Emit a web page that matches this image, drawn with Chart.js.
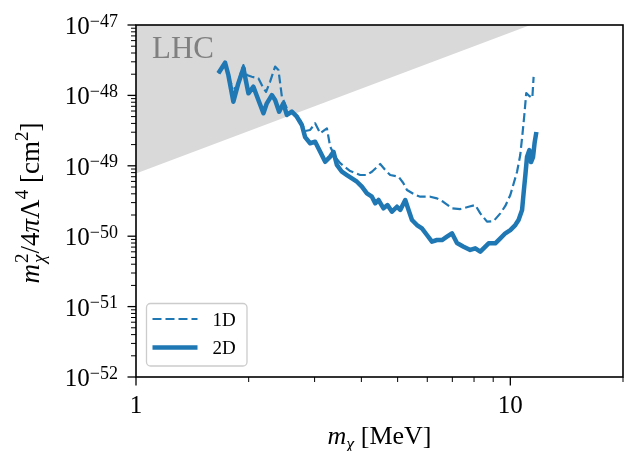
<!DOCTYPE html>
<html>
<head>
<meta charset="utf-8">
<script src="https://cdn.jsdelivr.net/npm/chart.js@4"></script>
<style>
  html, body { margin: 0; padding: 0; background: #fff; }
</style>
</head>
<body>
<canvas id="grafica" width="624" height="451"></canvas>
<script>
// ===============================
// DATOS
// ===============================
const masa2D = [1.660, 1.730, 1.765, 1.820, 1.877, 1.936, 1.997, 2.059, 2.123, 2.190,
  2.236, 2.306, 2.353, 2.412, 2.476, 2.529, 2.608, 2.690, 2.774, 2.830,
  2.919, 3.010, 3.105, 3.202, 3.302, 3.370, 3.441, 3.548, 3.659, 3.774,
  3.892, 4.013, 4.139, 4.268, 4.355, 4.444, 4.584, 4.698, 4.828, 4.980,
  5.081, 5.240, 5.348, 5.461, 5.630, 5.806, 5.988, 6.175, 6.368, 6.568,
  6.772, 6.984, 7.203, 7.501, 7.816, 8.061, 8.313, 8.484, 8.750, 9.118,
  9.404, 9.697, 10.0, 10.31, 10.52, 10.75, 10.85, 10.97, 11.08, 11.24,
  11.36, 11.50, 11.61, 11.74];
const sigma2D = [2.06e-48, 2.91e-48, 1.95e-48, 8.14e-49, 1.49e-48, 2.43e-48, 1.07e-48, 1.33e-48, 8.61e-49, 5.57e-49,
  7.72e-49, 1.01e-48, 8.61e-49, 5.87e-49, 7.72e-49, 5.27e-49, 5.87e-49, 4.98e-49, 3.80e-49, 2.56e-49,
  2.09e-49, 2.20e-49, 1.58e-49, 1.14e-49, 1.35e-49, 1.58e-49, 1.03e-49, 8.24e-50, 7.40e-50, 6.64e-50,
  5.94e-50, 5.05e-50, 4.06e-50, 3.64e-50, 2.93e-50, 3.27e-50, 2.49e-50, 2.77e-50, 2.23e-50, 2.62e-50,
  2.36e-50, 3.27e-50, 2.36e-50, 1.70e-50, 1.44e-50, 1.29e-50, 1.04e-50, 8.36e-51, 8.83e-51, 8.83e-51,
  9.84e-51, 1.10e-50, 8.00e-51, 7.10e-51, 6.37e-51, 6.73e-51, 6.03e-51, 6.73e-51, 7.93e-51, 7.93e-51,
  9.33e-51, 1.10e-50, 1.22e-50, 1.44e-50, 1.70e-50, 2.36e-50, 4.06e-50, 7.40e-50, 1.33e-49, 1.67e-49,
  1.13e-49, 1.33e-49, 2.11e-49, 3.02e-49];

const masa1D = [1.660, 1.730, 1.784, 1.851, 1.909, 1.936, 1.977, 2.039, 2.123, 2.190,
  2.226, 2.282, 2.353, 2.402, 2.453, 2.529, 2.634, 2.745, 2.830, 2.919,
  3.010, 3.105, 3.236, 3.302, 3.405, 3.512, 3.735, 3.971, 4.139, 4.268,
  4.491, 4.633, 4.777, 5.029, 5.176, 5.295, 5.572, 5.746, 6.111, 6.368,
  6.633, 6.984, 7.351, 7.736, 8.061, 8.313, 8.664, 9.023, 9.404, 9.697,
  10.0, 10.42, 10.63, 10.77, 10.90, 11.03, 11.24, 11.45, 11.54];
const sigma1D = [2.06e-48, 2.91e-48, 1.55e-48, 1.19e-48, 2.15e-48, 2.70e-48, 1.95e-48, 1.84e-48, 1.75e-48, 1.27e-48,
  1.12e-48, 1.57e-48, 2.56e-48, 2.30e-48, 9.59e-49, 6.56e-49, 5.57e-49, 4.48e-49, 3.12e-49, 3.23e-49,
  4.02e-49, 2.90e-49, 3.41e-49, 1.87e-49, 1.33e-49, 1.09e-49, 8.43e-50, 7.40e-50, 7.40e-50, 8.24e-50,
  1.06e-49, 8.71e-50, 7.40e-50, 7.00e-50, 5.70e-50, 4.53e-50, 3.85e-50, 3.64e-50, 3.64e-50, 3.45e-50,
  3.06e-50, 2.49e-50, 2.43e-50, 2.62e-50, 2.77e-50, 2.11e-50, 1.61e-50, 1.64e-50, 2.11e-50, 2.69e-50,
  3.85e-50, 8.17e-50, 1.42e-49, 2.74e-49, 5.27e-49, 1.08e-48, 9.80e-49, 9.18e-49, 1.83e-48];

// límite LHC (borde inferior de la zona gris)
const lhcMasa   = [1, 11.32, 20];
const lhcLimite = [7.8e-50, 1e-47, 1e-47];

// ticks
const xTicks      = [1, 10];
const xTickLabels = ["1", "10"];
const xMenores    = [2, 3, 4, 5, 6, 7, 8, 9, 20];
const yExponentes = [-52, -51, -50, -49, -48, -47];

const AZUL = "#1f77b4";
const FUENTE = '"Liberation Serif", "Times New Roman", serif';

const yTicks = yExponentes.map(e => Math.pow(10, e));
const yMenores = [];
yExponentes.slice(0, -1).forEach(e => {
  for (let m = 2; m <= 9; m++) yMenores.push(m * Math.pow(10, e));
});

const puntos = (xs, ys) => xs.map((x, i) => ({ x, y: ys[i] }));

// ===============================
// TEXTO CON SUPER/SUBÍNDICES
// ===============================
function fuente(tam, it) { return `${it ? "italic" : "normal"} ${tam}px ${FUENTE}`; }

function medir(ctx, p) {
  if (Array.isArray(p)) return Math.max(...p.map(q => medir(ctx, q)));
  ctx.font = fuente(p.tam, p.it);
  return ctx.measureText(p.t).width + (p.esp || 0);
}

function pintar(ctx, p, x, y) {
  if (Array.isArray(p)) { p.forEach(q => pintar(ctx, q, x, y)); return; }
  ctx.font = fuente(p.tam, p.it);
  ctx.fillText(p.t, x, y + (p.dy || 0));
}

function texto(ctx, partes, x, y, alinear) {
  const anchos = partes.map(p => medir(ctx, p));
  const total = anchos.reduce((a, b) => a + b, 0);
  let cx = alinear === "right" ? x - total : alinear === "center" ? x - total / 2 : x;
  ctx.textAlign = "left";
  ctx.textBaseline = "alphabetic";
  partes.forEach((p, i) => { pintar(ctx, p, cx, y); cx += anchos[i]; });
}

// ===============================
// PLUGIN: marco, ticks, títulos, leyenda
// ===============================
const ejes = {
  id: "ejes",
  afterDraw(chart) {
    const { ctx, chartArea: a, scales: { x, y } } = chart;
    ctx.save();
    ctx.fillStyle = "#000";
    ctx.strokeStyle = "#000";

    // LHC
    ctx.fillStyle = "#808080";
    texto(ctx, [{ t: "LHC", tam: 31 }], a.left + 16, a.top + 33, "left");
    ctx.fillStyle = "#000";

    // ticks x
    ctx.lineWidth = 1.3;
    xTicks.forEach((v, i) => {
      const px = x.getPixelForValue(v);
      ctx.beginPath(); ctx.moveTo(px, a.bottom); ctx.lineTo(px, a.bottom + 8.5); ctx.stroke();
      texto(ctx, [{ t: xTickLabels[i], tam: 25 }], px, a.bottom + 36, "center");
    });
    ctx.lineWidth = 1;
    xMenores.forEach(v => {
      const px = x.getPixelForValue(v);
      ctx.beginPath(); ctx.moveTo(px, a.bottom); ctx.lineTo(px, a.bottom + 5); ctx.stroke();
    });

    // ticks y
    ctx.lineWidth = 1.3;
    yTicks.forEach((v, i) => {
      const py = y.getPixelForValue(v);
      ctx.beginPath(); ctx.moveTo(a.left, py); ctx.lineTo(a.left - 8.5, py); ctx.stroke();
      texto(ctx, [{ t: "10", tam: 25 }, { t: "\u2212" + Math.abs(yExponentes[i]), tam: 18, dy: -7.5 }],
        a.left - 18, py + 9, "right");
    });
    ctx.lineWidth = 1;
    yMenores.forEach(v => {
      const py = y.getPixelForValue(v);
      ctx.beginPath(); ctx.moveTo(a.left, py); ctx.lineTo(a.left - 5, py); ctx.stroke();
    });

    // marco
    ctx.lineWidth = 1.6;
    ctx.strokeRect(a.left, a.top, a.right - a.left, a.bottom - a.top);

    // título x
    texto(ctx, [{ t: "m", tam: 26, it: true }, { t: "\u03c7", tam: 18, it: true, dy: 6 }, { t: " [MeV]", tam: 26 }],
      (a.left + a.right) / 2, 444, "center");

    // título y
    ctx.save();
    ctx.translate(39, (a.top + a.bottom) / 2 + 2);
    ctx.rotate(-Math.PI / 2);
    texto(ctx, [
      { t: "m", tam: 27, it: true, esp: 1 },
      [{ t: "2", tam: 19, dy: -11 }, { t: "\u03c7", tam: 19, it: true, dy: 6 }],
      { t: "/4", tam: 27 }, { t: "\u03c0", tam: 27, it: true }, { t: "\u039b", tam: 27 },
      { t: "4", tam: 19, dy: -11 },
      { t: " [cm", tam: 27 }, { t: "2", tam: 19, dy: -11 }, { t: "]", tam: 27 }
    ], 0, 0, "center");
    ctx.restore();

    // leyenda
    const lx = a.left + 10.5, ly = 303.5, lw = 100.5, lh = 62.5;
    ctx.beginPath();
    ctx.roundRect(lx, ly, lw, lh, 4);
    ctx.fillStyle = "rgba(255,255,255,0.8)";
    ctx.fill();
    ctx.strokeStyle = "#cccccc";
    ctx.lineWidth = 1.3;
    ctx.stroke();

    const entradas = chart.data.datasets.filter(d => d.label !== "LHC");
    entradas.forEach((d, i) => {
      const ey = 319 + i * 28.5;
      ctx.strokeStyle = d.borderColor;
      ctx.lineWidth = d.borderWidth;
      ctx.setLineDash(d.borderDash || []);
      ctx.beginPath(); ctx.moveTo(lx + 6, ey); ctx.lineTo(lx + 51, ey); ctx.stroke();
      ctx.setLineDash([]);
      ctx.fillStyle = "#000";
      texto(ctx, [{ t: d.label, tam: 19 }], lx + 66, ey + 6.5, "left");
    });

    ctx.restore();
  }
};

// ===============================
// GRÁFICA
// ===============================
const ctx = document.getElementById("grafica").getContext("2d");

new Chart(ctx, {
  type: "line",
  data: {
    datasets: [
      { label: "LHC", data: puntos(lhcMasa, lhcLimite), fill: "end", backgroundColor: "#d9d9d9",
        borderWidth: 0, pointRadius: 0, order: 3 },
      { label: "1D", data: puntos(masa1D, sigma1D), borderColor: AZUL, borderWidth: 2.2,
        borderDash: [9, 4], pointRadius: 0, order: 2, borderJoinStyle: "round" },
      { label: "2D", data: puntos(masa2D, sigma2D), borderColor: AZUL, borderWidth: 4.5,
        pointRadius: 0, order: 1, borderJoinStyle: "round" }
    ]
  },
  options: {
    responsive: false,
    animation: false,
    devicePixelRatio: 1,
    layout: { padding: { left: 0, right: 1, top: 25, bottom: 0 } },
    plugins: { legend: { display: false }, tooltip: { enabled: false } },
    scales: {
      x: {
        type: "logarithmic", min: 1, max: 20,
        grid: { display: false }, border: { display: false }, ticks: { display: false },
        afterBuildTicks: s => { s.ticks = xTicks.concat(xMenores).map(v => ({ value: v })); },
        afterFit: s => { s.height = 74; }
      },
      y: {
        type: "logarithmic", min: 1e-52, max: 1e-47,
        grid: { display: false }, border: { display: false }, ticks: { display: false },
        afterBuildTicks: s => { s.ticks = yTicks.concat(yMenores).map(v => ({ value: v })); },
        afterFit: s => { s.width = 136; }
      }
    }
  },
  plugins: [ejes]
});
</script>
</body>
</html>
